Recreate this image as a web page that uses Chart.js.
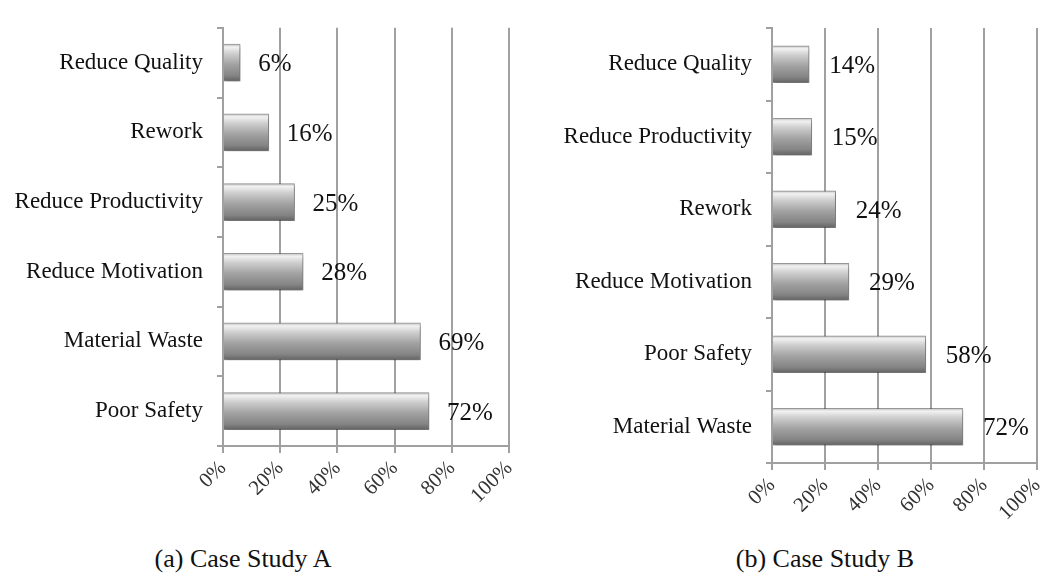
<!DOCTYPE html>
<html>
<head>
<meta charset="utf-8">
<script src="https://cdn.jsdelivr.net/npm/chart.js@4"></script>
<style>
  body { margin: 0; background: #fff; width: 1058px; height: 577px; overflow: hidden; position: relative; }
  .box { position: absolute; top: 0; }
  .cap { position: absolute; top: 544px; font: 26px "Liberation Serif", "Times New Roman", serif; color: #111; white-space: nowrap; transform: translateX(-50%); }
</style>
</head>
<body>
<div class="box" style="left:0;width:530px;height:530px"><canvas id="chartA"></canvas></div>
<div class="box" style="left:530px;width:528px;height:530px"><canvas id="chartB"></canvas></div>
<div class="cap" style="left:243px">(a) Case Study A</div>
<div class="cap" style="left:825px">(b) Case Study B</div>
<script>
// Case Study A (top to bottom)
const labelsA = ['Reduce Quality', 'Rework', 'Reduce Productivity', 'Reduce Motivation', 'Material Waste', 'Poor Safety'];
const valuesA = [6, 16, 25, 28, 69, 72];

// Case Study B (top to bottom)
const labelsB = ['Reduce Quality', 'Reduce Productivity', 'Rework', 'Reduce Motivation', 'Poor Safety', 'Material Waste'];
const valuesB = [14, 15, 24, 29, 58, 72];

const xTicks = [0, 20, 40, 60, 80, 100];

const SERIF = '"Liberation Serif", "Times New Roman", serif';
const BAR_H = 37;

// grey "3D" bar fill, vertical gradient per bar
function barFill(context) {
    const chart = context.chart;
    const y = chart.scales && chart.scales.y;
    if (!y || !chart.chartArea) return '#a0a0a0';
    const cy = y.getPixelForValue(context.dataIndex);
    const g = chart.ctx.createLinearGradient(0, cy - BAR_H / 2, 0, cy + BAR_H / 2);
    g.addColorStop(0, '#bdbdbd');
    g.addColorStop(0.08, '#f2f2f2');
    g.addColorStop(0.25, '#cfcfcf');
    g.addColorStop(0.55, '#a2a2a2');
    g.addColorStop(0.85, '#848484');
    g.addColorStop(1, '#636363');
    return g;
}

// soft shadow under bars
const barShadow = {
    id: 'barShadow',
    beforeDatasetDraw(chart) {
        const c = chart.ctx;
        c.save();
        c.shadowColor = 'rgba(0,0,0,0.35)';
        c.shadowBlur = 4;
        c.shadowOffsetX = 1;
        c.shadowOffsetY = 2;
    },
    afterDatasetDraw(chart) {
        chart.ctx.restore();
    }
};

// value labels right of each bar
const valueLabels = {
    id: 'valueLabels',
    afterDatasetsDraw(chart, args, opts) {
        const c = chart.ctx;
        const meta = chart.getDatasetMeta(0);
        const data = chart.data.datasets[0].data;
        c.save();
        c.font = '25px ' + SERIF;
        c.fillStyle = '#111';
        c.textAlign = 'left';
        c.textBaseline = 'middle';
        meta.data.forEach((bar, i) => {
            c.fillText(data[i] + '%', bar.x + opts.offset, bar.y + 2);
        });
        c.restore();
    }
};

function makeChart(id, labels, values, box) {
    return new Chart(document.getElementById(id), {
        type: 'bar',
        data: {
            labels: labels,
            datasets: [{
                data: values,
                backgroundColor: barFill,
                borderColor: 'rgba(80,80,80,0.55)',
                borderWidth: 1,
                borderSkipped: 'start',
                barThickness: BAR_H
            }]
        },
        options: {
            indexAxis: 'y',
            responsive: true,
            maintainAspectRatio: false,
            animation: false,
            layout: { padding: { top: box.top, right: box.right, left: 0, bottom: 0 } },
            plugins: {
                legend: { display: false },
                tooltip: { enabled: false },
                valueLabels: { offset: box.labelOffset }
            },
            scales: {
                x: {
                    min: 0,
                    max: 100,
                    afterBuildTicks: axis => { axis.ticks = xTicks.map(v => ({ value: v })); },
                    afterFit: axis => { axis.height = box.xHeight; },
                    grid: { color: '#a0a0a0', lineWidth: 2, tickLength: 7, drawTicks: true },
                    border: { color: '#a0a0a0', width: 2 },
                    ticks: {
                        minRotation: 45,
                        maxRotation: 45,
                        padding: 3,
                        color: '#333',
                        font: { family: SERIF, size: 21 },
                        callback: v => v + '%'
                    }
                },
                y: {
                    afterFit: axis => { axis.width = box.yWidth; },
                    grid: { drawOnChartArea: false, color: '#a0a0a0', lineWidth: 2, tickLength: 6 },
                    border: { color: '#a0a0a0', width: 2 },
                    ticks: {
                        padding: 14,
                        color: '#111',
                        font: { family: SERIF, size: 23 }
                    }
                }
            }
        },
        plugins: [barShadow, valueLabels]
    });
}

makeChart('chartA', labelsA, valuesA, { top: 12, right: 19, yWidth: 223, xHeight: 84, labelOffset: 18 });
makeChart('chartB', labelsB, valuesB, { top: 28, right: 9, yWidth: 242, xHeight: 67, labelOffset: 20 });
</script>
</body>
</html>
